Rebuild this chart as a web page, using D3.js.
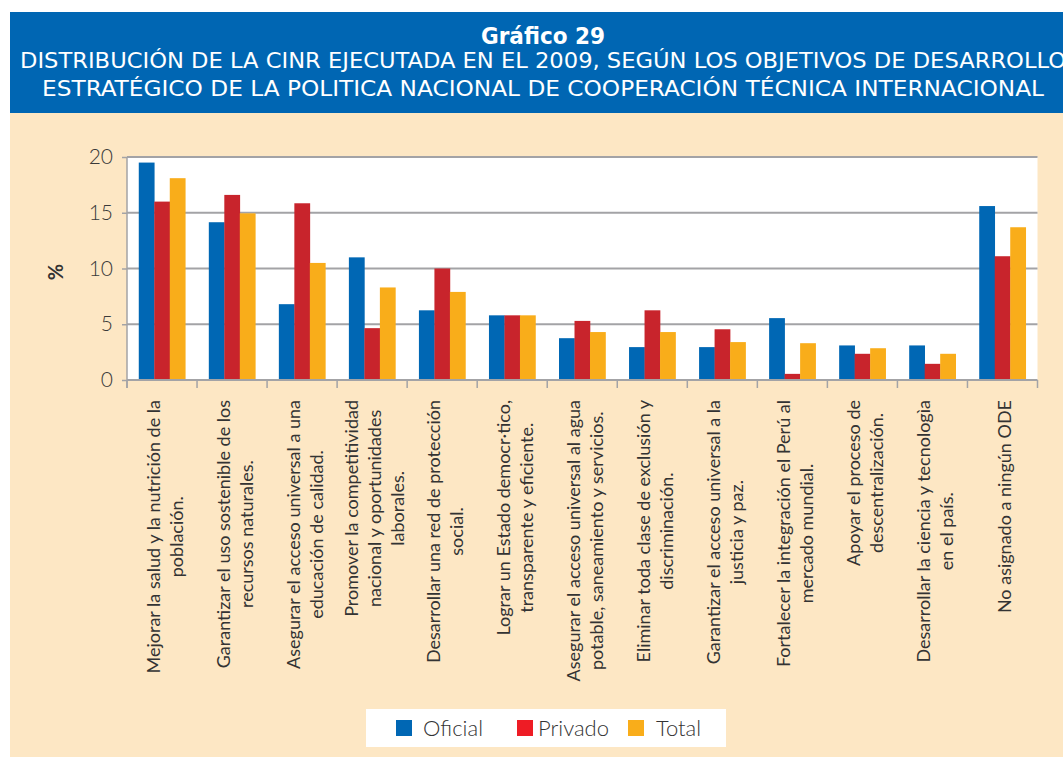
<!DOCTYPE html>
<html><head><meta charset="utf-8">
<script src="https://cdn.jsdelivr.net/npm/d3@7"></script>
<style>
html,body{margin:0;padding:0;background:#fff;}
svg{display:block;}
</style></head>
<body>
<svg id="chart" width="1063" height="757"></svg>
<script>
const categories = [
  ["Mejorar la salud y la nutrición de la", "población."],
  ["Garantizar el uso sostenible de los", "recursos naturales."],
  ["Asegurar el acceso universal a una", "educación de calidad."],
  ["Promover la competitividad", "nacional y oportunidades", "laborales."],
  ["Desarrollar una red de protección", "social."],
  ["Lograr un Estado democr·tico,", "transparente y eficiente."],
  ["Asegurar el acceso universal al agua", "potable, saneamiento y servicios."],
  ["Eliminar toda clase de exclusión y", "discriminación."],
  ["Garantizar el acceso universal a la", "justicia y paz."],
  ["Fortalecer la integración el Perú al", "mercado mundial."],
  ["Apoyar el proceso de", "descentralización."],
  ["Desarrollar la ciencia y tecnologìa", "en el país."],
  ["No asignado a ningún ODE"]
];
const seriesNames = ["Oficial", "Privado", "Total"];
const oficial = [19.5, 14.15, 6.8, 11.0, 6.25, 5.8, 3.75, 2.95, 2.95, 5.55, 3.1, 3.1, 15.6];
const privado = [16.0, 16.6, 15.85, 4.65, 10.0, 5.8, 5.3, 6.25, 4.55, 0.55, 2.35, 1.45, 11.1];
const total   = [18.1, 14.95, 10.5, 8.3, 7.9, 5.8, 4.3, 4.3, 3.4, 3.3, 2.85, 2.35, 13.7];
const yTicks = [0, 5, 10, 15, 20];
const titleLines = ["Gráfico 29",
  "DISTRIBUCIÓN DE LA CINR EJECUTADA EN EL 2009, SEGÚN LOS OBJETIVOS DE DESARROLLO",
  "ESTRATÉGICO DE LA POLITICA NACIONAL DE COOPERACIÓN TÉCNICA INTERNACIONAL"];

const barColors = ["#0067b4", "#c8242c", "#f9ad1a"];
const legendColors = ["#0067b4", "#ee1c25", "#f9ad1a"];
const values = [oficial, privado, total];

const svg = d3.select("#chart");
const W = 1063, H = 757;
const font = "Lato, 'Open Sans', sans-serif";
const condFont = "'DejaVu Sans Condensed', 'Liberation Sans Narrow', 'DejaVu Sans', sans-serif";

// backgrounds
svg.append("rect").attr("x", 10).attr("y", 12).attr("width", W - 10).attr("height", H - 12).attr("fill", "#fde7c4");
svg.append("rect").attr("x", 10).attr("y", 12).attr("width", W - 10).attr("height", 101).attr("fill", "#0066b3");

// titles
svg.append("text").attr("x", 543).attr("y", 44).attr("text-anchor", "middle")
  .attr("fill", "#fff").attr("font-family", condFont).attr("font-weight", "bold").attr("font-size", 23)
  .attr("textLength", 124).attr("lengthAdjust", "spacingAndGlyphs")
  .text(titleLines[0]);
svg.append("text").attr("x", 20).attr("y", 68)
  .attr("fill", "#fff").attr("font-family", condFont).attr("font-size", 21.5)
  .attr("textLength", 1046).attr("lengthAdjust", "spacingAndGlyphs")
  .text(titleLines[1]);
svg.append("text").attr("x", 42).attr("y", 96)
  .attr("fill", "#fff").attr("font-family", condFont).attr("font-size", 21.5)
  .attr("textLength", 1002).attr("lengthAdjust", "spacingAndGlyphs")
  .text(titleLines[2]);

// plot
const pLeft = 127, pRight = 1037.5, pTop = 157, pBottom = 380;
const x = d3.scaleBand().domain(d3.range(categories.length)).range([pLeft, pRight]).paddingInner(0).paddingOuter(0);
const groupW = 46.5;
const xs = d3.scaleBand().domain(d3.range(3)).range([0, groupW]);
const y = d3.scaleLinear().domain([0, 20]).range([pBottom, pTop]);

svg.append("rect").attr("x", pLeft).attr("y", pTop).attr("width", pRight - pLeft).attr("height", pBottom - pTop).attr("fill", "#fff");

// gridlines
svg.append("g").selectAll("line").data(yTicks.filter(d => d > 0)).join("line")
  .attr("x1", pLeft).attr("x2", pRight).attr("y1", d => y(d)).attr("y2", d => y(d))
  .attr("stroke", "#a3a3a6").attr("stroke-width", 2);

// bars
const groups = svg.append("g").selectAll("g").data(categories.map((c, i) => i)).join("g")
  .attr("transform", i => `translate(${x(i) + (x.bandwidth() - groupW) / 2},0)`);
groups.selectAll("rect").data(i => values.map((v, s) => ({ s, v: v[i] }))).join("rect")
  .attr("x", d => xs(d.s)).attr("width", xs.bandwidth() + 0.3)
  .attr("y", d => y(d.v)).attr("height", d => y(0) - y(d.v))
  .attr("fill", d => barColors[d.s]);

// y axis
const yAxis = d3.axisLeft(y).tickValues(yTicks).tickSize(5).tickPadding(9);
const gy = svg.append("g").attr("transform", `translate(${pLeft},0)`).call(yAxis);
gy.select(".domain").attr("stroke", "#a3a3a6").attr("stroke-width", 1.5).attr("d", `M0,${pTop}V${pBottom + 8}`);
gy.selectAll(".tick line").attr("stroke", "#a3a3a6").attr("stroke-width", 1.5);
gy.selectAll(".tick text").attr("font-family", font).attr("font-weight", 300).attr("font-size", 21).attr("fill", "#3a3a3a");

// x axis
const gx = svg.append("g").attr("transform", `translate(0,${pBottom})`);
gx.append("line").attr("x1", pLeft).attr("x2", pRight).attr("stroke", "#a3a3a6").attr("stroke-width", 2);
gx.selectAll("line.t").data(d3.range(categories.length + 1)).join("line").attr("class", "t")
  .attr("x1", i => i < categories.length ? x(i) : pRight).attr("x2", i => i < categories.length ? x(i) : pRight)
  .attr("y1", 0).attr("y2", 8).attr("stroke", "#a3a3a6").attr("stroke-width", 1.5);

// category labels
const lineH = 23;
const labels = svg.append("g").selectAll("g").data(categories.map((c, i) => i)).join("g")
  .attr("transform", i => `translate(${x(i) + x.bandwidth() / 2 + 2},${pBottom + 20}) rotate(-90)`);
labels.each(function (i) {
  const lines = categories[i];
  const g = d3.select(this);
  const n = lines.length;
  const t = g.append("text").attr("font-family", font).attr("font-size", 18).attr("fill", "#333");
  const tspans = lines.map((l, k) => t.append("tspan").text(l));
  const widths = tspans.map(ts => ts.node().getComputedTextLength());
  const maxW = d3.max(widths);
  tspans.forEach((ts, k) => {
    ts.attr("x", -maxW / 2).attr("text-anchor", "middle")
      .attr("y", (k - (n - 1) / 2) * lineH).attr("dominant-baseline", "central");
  });
});

// y label
svg.append("text").attr("transform", "translate(55,272) rotate(-90)").attr("text-anchor", "middle")
  .attr("dominant-baseline", "central").attr("font-family", font).attr("font-size", 20).attr("font-weight", "bold")
  .attr("fill", "#333").text("%");

// legend
svg.append("rect").attr("x", 366).attr("y", 709).attr("width", 360).attr("height", 38).attr("fill", "#fff");
const legendX = [396, 517, 628];
const legendTX = [423, 538, 656];
const lg = svg.append("g").selectAll("g").data(seriesNames).join("g");
lg.append("rect").attr("x", (d, i) => legendX[i]).attr("y", 720).attr("width", 16).attr("height", 16)
  .attr("fill", (d, i) => legendColors[i]);
lg.append("text").attr("x", (d, i) => legendTX[i]).attr("y", 736).attr("font-family", font).attr("font-weight", 300).attr("font-size", 22)
  .attr("fill", "#333").text(d => d);
</script>
</body></html>
